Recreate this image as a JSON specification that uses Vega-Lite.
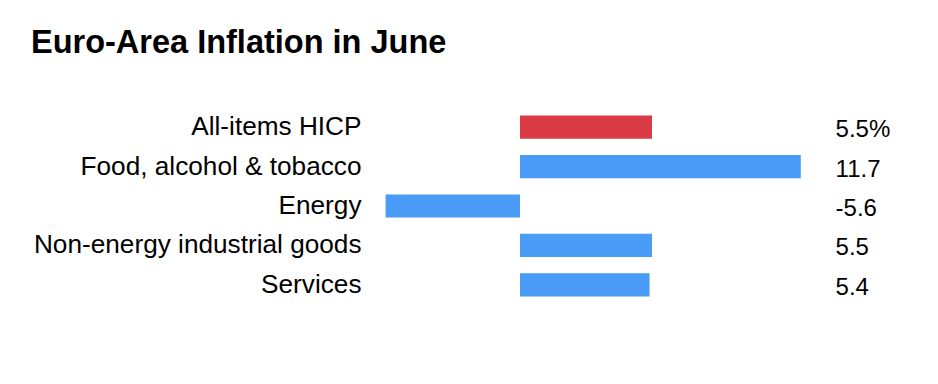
{
  "$schema": "https://vega.github.io/schema/vega-lite/v6.json",
  "autosize": "none",
  "width": 480,
  "height": 197,
  "padding": {"left": 376, "top": 107.5, "right": 82, "bottom": 79.5},
  "background": "white",
  "config": {"view": {"stroke": null}, "font": "Liberation Sans"},
  "title": {
    "text": "Euro-Area Inflation in June",
    "anchor": "start",
    "frame": "group",
    "font": "Liberation Sans",
    "fontSize": 32.5,
    "fontWeight": "bold",
    "color": "#000000",
    "baseline": "alphabetic",
    "dx": -345,
    "offset": 22
  },
  "data": {
    "values": [
      {"category": "All-items HICP", "value": 5.5, "label": "5.5%", "group": "headline"},
      {"category": "Food, alcohol & tobacco", "value": 11.7, "label": "11.7", "group": "component"},
      {"category": "Energy", "value": -5.6, "label": "-5.6", "group": "component"},
      {"category": "Non-energy industrial goods", "value": 5.5, "label": "5.5", "group": "component"},
      {"category": "Services", "value": 5.4, "label": "5.4", "group": "component"}
    ]
  },
  "encoding": {
    "y": {
      "field": "category",
      "type": "nominal",
      "sort": null,
      "scale": {"paddingInner": 0.41, "paddingOuter": 0.205},
      "axis": {
        "title": null,
        "domain": false,
        "ticks": false,
        "labelFontSize": 26.2,
        "labelFont": "Liberation Sans",
        "labelColor": "#000000",
        "labelPadding": 15,
        "labelLimit": 500
      }
    }
  },
  "layer": [
    {
      "mark": {"type": "bar"},
      "encoding": {
        "x": {
          "field": "value",
          "type": "quantitative",
          "scale": {"domain": [-6, 14], "nice": false, "zero": false},
          "axis": null
        },
        "color": {
          "field": "group",
          "type": "nominal",
          "scale": {"domain": ["headline", "component"], "range": ["#db3b45", "#4a9cf6"]},
          "legend": null
        }
      }
    },
    {
      "mark": {"type": "text", "align": "left", "baseline": "middle", "fontSize": 24, "font": "Liberation Sans", "color": "#000000", "dy": 3},
      "encoding": {
        "x": {"datum": 13.15, "type": "quantitative"},
        "text": {"field": "label", "type": "nominal"}
      }
    }
  ]
}
